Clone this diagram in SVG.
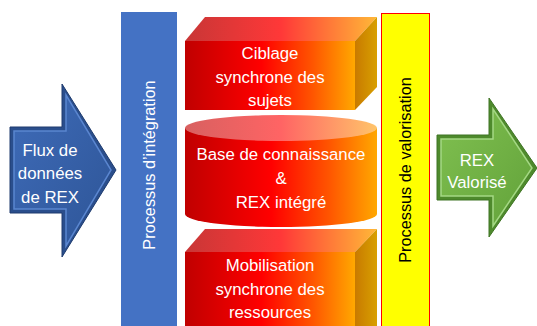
<svg xmlns="http://www.w3.org/2000/svg" width="537" height="326" viewBox="0 0 537 326">
<defs>
<linearGradient id="gFront" x1="0" y1="0" x2="1" y2="0">
<stop offset="0" stop-color="#C00000"/><stop offset="0.45" stop-color="#FF0000"/><stop offset="0.75" stop-color="#FF5500"/><stop offset="1" stop-color="#FFA800"/>
</linearGradient>
<linearGradient id="gTop" x1="0" y1="0" x2="1" y2="0">
<stop offset="0" stop-color="#C83636"/><stop offset="0.5" stop-color="#FF3838"/><stop offset="1" stop-color="#FFB838"/>
</linearGradient>
<linearGradient id="gSide" x1="0" y1="0" x2="1" y2="0">
<stop offset="0" stop-color="#C87A00"/><stop offset="1" stop-color="#D8A000"/>
</linearGradient>
<linearGradient id="gCap" x1="0" y1="0" x2="1" y2="0">
<stop offset="0" stop-color="#D86060"/><stop offset="0.5" stop-color="#FF6464"/><stop offset="1" stop-color="#FFC46A"/>
</linearGradient>
<linearGradient id="gBlue" x1="0" y1="0" x2="1" y2="1">
<stop offset="0" stop-color="#3E6BB8"/><stop offset="1" stop-color="#2E5597"/>
</linearGradient>
<linearGradient id="gGreen" x1="0" y1="0" x2="1" y2="1">
<stop offset="0" stop-color="#80C050"/><stop offset="1" stop-color="#62A23A"/>
</linearGradient>
<style>
text{font-family:"Liberation Sans",Arial,sans-serif;text-anchor:middle;dominant-baseline:central}
.w{fill:#FFFFFF;font-size:16.8px}
.bar{font-size:16.3px}
</style>
</defs>

<g id="flux">
<polygon points="10,127 62,127 62,84 116,170 62,257 62,213 10,213" fill="#2A4E8C" stroke="#1E3B6E" stroke-width="1"/>
<polygon points="14,131 66,131 66,95 111,170 66,246 66,209 14,209" fill="url(#gBlue)" stroke="#5A86D0" stroke-width="1.5"/>
<text class="w" x="50" y="150">Flux de</text>
<text class="w" x="50" y="173">données</text>
<text class="w" x="50" y="197">de REX</text>
</g>

<g id="integration">
<rect x="121" y="12" width="56" height="320" fill="#4472C4"/>
<text class="w bar" transform="translate(149,165) rotate(-90)">Processus d’intégration</text>
</g>

<g id="ciblage">
<polygon points="185,41 205,17 377,17 355,41" fill="url(#gTop)"/>
<polygon points="355,41 377,17 377,87 355,110" fill="url(#gSide)"/>
<rect x="185" y="41" width="170" height="69" fill="url(#gFront)"/>
<text class="w" x="270" y="53">Ciblage</text>
<text class="w" x="270" y="77">synchrone des</text>
<text class="w" x="270" y="100">sujets</text>
</g>

<g id="base">
<path d="M185,128 L185,214 A96,13 0 0 0 377,214 L377,128 Z" fill="url(#gFront)"/>
<ellipse cx="281" cy="128" rx="96" ry="13" fill="url(#gCap)"/>
<text class="w" x="281" y="154">Base de connaissance</text>
<text class="w" x="281" y="178">&amp;</text>
<text class="w" x="281" y="202">REX intégré</text>
</g>

<g id="mobilisation">
<polygon points="185,252 205,229 377,229 355,252" fill="url(#gTop)"/>
<polygon points="355,252 377,229 377,330 355,330" fill="url(#gSide)"/>
<rect x="185" y="252" width="170" height="80" fill="url(#gFront)"/>
<text class="w" x="270" y="265">Mobilisation</text>
<text class="w" x="270" y="289">synchrone des</text>
<text class="w" x="270" y="312">ressources</text>
</g>

<g id="valorisation">
<rect x="381.5" y="13.5" width="48" height="320" fill="#FFFF00" stroke="#FF0000" stroke-width="1"/>
<text class="bar" fill="#000000" transform="translate(405,170) rotate(-90)">Processus de valorisation</text>
</g>

<g id="rex">
<polygon points="437,135 489,135 489,98 537,168 489,237 489,200 437,200" fill="#4E8A2C" stroke="#3F7424" stroke-width="1"/>
<polygon points="441,139 493,139 493,109 532,168 493,226 493,196 441,196" fill="url(#gGreen)" stroke="#A4D884" stroke-width="1.5"/>
<text class="w" x="477" y="160">REX</text>
<text class="w" x="477" y="182">Valorisé</text>
</g>

<g id="connectors"></g>
</svg>
